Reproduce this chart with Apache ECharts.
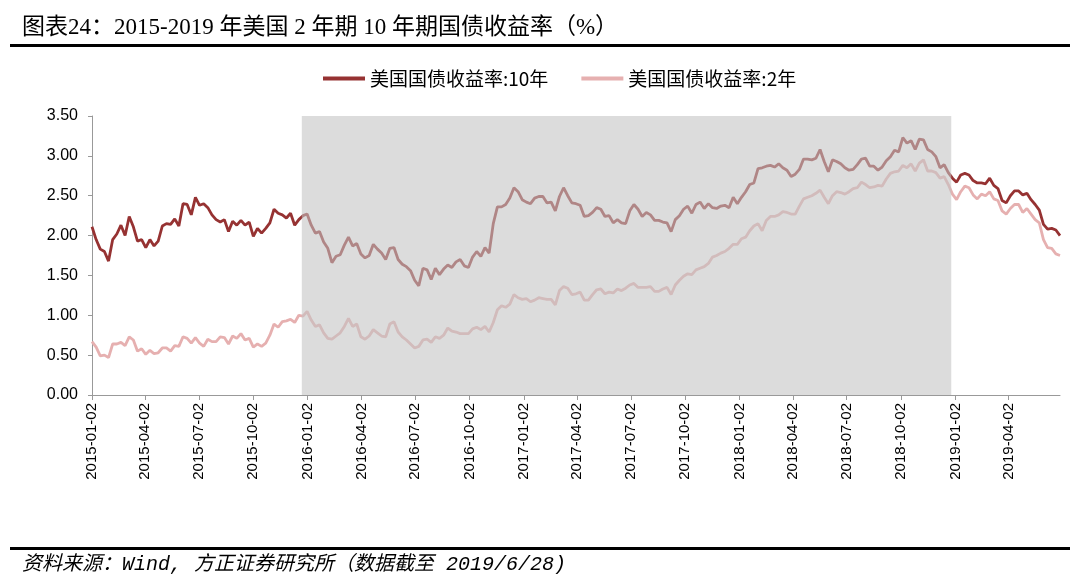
<!DOCTYPE html>
<html style="height: 100%">

<head>
  <meta charset="utf-8">
</head>

<body style="height: 100%; margin: 0">
  <div id="container" style="width: 1080px; height: 588px"></div>
  <script src="https://cdn.jsdelivr.net/npm/echarts@6/dist/echarts.min.js"></script>
  <script type="text/javascript">
    // 周度数据（每周五），从 2015-01-02 到 2019-06-28
    var firstDate = '2015-01-02';
    var lastDate = '2019-06-28';

    // 美国国债收益率:10年
    var tenY2015 = [2.11, 1.95, 1.83, 1.80, 1.68, 1.95, 2.02, 2.13, 2.00, 2.24, 2.11, 1.93, 1.95, 1.85, 1.95, 1.87, 1.93,
      2.12, 2.15, 2.14, 2.21, 2.12, 2.40, 2.39, 2.26, 2.48, 2.38, 2.40, 2.35, 2.26, 2.20, 2.17, 2.20, 2.05, 2.18,
      2.13, 2.19, 2.13, 2.17, 1.99, 2.09, 2.03, 2.09, 2.16, 2.33, 2.28, 2.26, 2.22, 2.28, 2.13, 2.20, 2.25];
    var tenY2016 = [2.27, 2.13, 2.03, 2.05, 1.92, 1.84, 1.66, 1.74, 1.76, 1.88, 1.98, 1.87, 1.90, 1.77, 1.72, 1.75, 1.89, 1.83,
      1.78, 1.70, 1.84, 1.85, 1.70, 1.64, 1.61, 1.56, 1.44, 1.37, 1.59, 1.57, 1.45, 1.59, 1.51, 1.58, 1.63,
      1.60, 1.67, 1.70, 1.62, 1.60, 1.73, 1.80, 1.74, 1.85, 1.78, 2.15, 2.36, 2.36, 2.39, 2.47, 2.60, 2.55, 2.45];
    var tenY2017 = [2.42, 2.40, 2.47, 2.49, 2.49, 2.41, 2.42, 2.31, 2.49, 2.60, 2.50, 2.41, 2.40, 2.38, 2.24, 2.25, 2.29,
      2.35, 2.33, 2.24, 2.25, 2.16, 2.20, 2.16, 2.15, 2.31, 2.39, 2.33, 2.24, 2.29, 2.26, 2.19, 2.19, 2.17,
      2.16, 2.05, 2.20, 2.25, 2.33, 2.37, 2.28, 2.39, 2.42, 2.34, 2.40, 2.35, 2.34, 2.37, 2.38, 2.35, 2.48, 2.40];
    var tenY2018 = [2.48, 2.55, 2.64, 2.66, 2.84, 2.85, 2.87, 2.88, 2.86, 2.90, 2.85, 2.82, 2.74, 2.77, 2.83, 2.96, 2.96,
      2.95, 2.97, 3.08, 2.93, 2.80, 2.95, 2.93, 2.90, 2.85, 2.82, 2.83, 2.89, 2.96, 2.97, 2.87, 2.87, 2.82, 2.86,
      2.94, 2.99, 3.07, 3.05, 3.23, 3.16, 3.19, 3.08, 3.21, 3.20, 3.08, 3.05, 2.99, 2.85, 2.89, 2.79, 2.72];
    var tenY2019 = [2.67, 2.76, 2.78, 2.76, 2.69, 2.66, 2.66, 2.65, 2.72, 2.63, 2.59, 2.44, 2.41,
      2.50, 2.56, 2.56, 2.51, 2.53, 2.45, 2.39, 2.32, 2.14, 2.08, 2.09, 2.07, 2.00];

    // 美国国债收益率:2年
    var twoY2015 = [0.67, 0.60, 0.49, 0.50, 0.47, 0.64, 0.64, 0.66, 0.62, 0.73, 0.69, 0.55, 0.58, 0.51, 0.56, 0.52, 0.53,
      0.59, 0.59, 0.55, 0.62, 0.61, 0.73, 0.71, 0.65, 0.72, 0.65, 0.61, 0.70, 0.67, 0.67, 0.73, 0.72, 0.64, 0.74,
      0.71, 0.77, 0.69, 0.71, 0.60, 0.64, 0.61, 0.65, 0.75, 0.89, 0.85, 0.92, 0.93, 0.95, 0.91, 1.00, 0.99];
    var twoY2016 = [1.05, 0.94, 0.86, 0.88, 0.78, 0.71, 0.70, 0.74, 0.78, 0.86, 0.96, 0.86, 0.89, 0.73, 0.70, 0.74, 0.82, 0.78,
      0.74, 0.73, 0.89, 0.92, 0.79, 0.73, 0.69, 0.64, 0.59, 0.61, 0.69, 0.70, 0.66, 0.73, 0.71, 0.75, 0.84,
      0.80, 0.79, 0.77, 0.77, 0.77, 0.83, 0.85, 0.82, 0.86, 0.79, 0.91, 1.07, 1.12, 1.10, 1.14, 1.26, 1.22, 1.20];
    var twoY2017 = [1.21, 1.17, 1.19, 1.22, 1.21, 1.20, 1.20, 1.13, 1.31, 1.36, 1.34, 1.26, 1.27, 1.29, 1.19, 1.19, 1.26,
      1.32, 1.33, 1.27, 1.29, 1.28, 1.33, 1.31, 1.34, 1.38, 1.40, 1.35, 1.35, 1.35, 1.36, 1.30, 1.30, 1.33,
      1.35, 1.26, 1.38, 1.44, 1.49, 1.52, 1.51, 1.57, 1.59, 1.61, 1.65, 1.73, 1.75, 1.78, 1.80, 1.84, 1.89, 1.89];
    var twoY2018 = [1.96, 1.98, 2.06, 2.12, 2.15, 2.06, 2.19, 2.24, 2.24, 2.26, 2.30, 2.29, 2.27, 2.27, 2.37, 2.46, 2.48,
      2.50, 2.53, 2.57, 2.48, 2.40, 2.50, 2.55, 2.54, 2.52, 2.55, 2.59, 2.60, 2.67, 2.64, 2.60, 2.61, 2.63, 2.62,
      2.71, 2.78, 2.80, 2.81, 2.88, 2.85, 2.90, 2.81, 2.91, 2.95, 2.81, 2.81, 2.79, 2.72, 2.74, 2.64, 2.52];
    var twoY2019 = [2.45, 2.55, 2.62, 2.60, 2.51, 2.46, 2.52, 2.50, 2.55, 2.46, 2.44, 2.31, 2.27,
      2.34, 2.39, 2.39, 2.29, 2.34, 2.27, 2.20, 2.16, 1.95, 1.85, 1.84, 1.77, 1.75];

    // x轴刻度标签
    var tickDates = ['2015-01-02', '2015-04-02', '2015-07-02', '2015-10-02', '2016-01-02', '2016-04-02',
      '2016-07-02', '2016-10-02', '2017-01-02', '2017-04-02', '2017-07-02', '2017-10-02', '2018-01-02',
      '2018-04-02', '2018-07-02', '2018-10-02', '2019-01-02', '2019-04-02'];

    // 灰色阴影区间（加息周期）
    var shadeStart = '2015-12-23';
    var shadeEnd = '2018-12-26';

    var names = ['美国国债收益率:10年', '美国国债收益率:2年'];
    var colors = ['#963232', '#e6b0b0'];

    function ts(s) {
      var p = s.split('-');
      return new Date(+p[0], +p[1] - 1, +p[2]).getTime();
    }

    var tenY = tenY2015.concat(tenY2016, tenY2017, tenY2018, tenY2019);
    var twoY = twoY2015.concat(twoY2016, twoY2017, twoY2018, twoY2019);

    var weekDates = [];
    var d = new Date(2015, 0, 2);
    while (d.getTime() <= ts(lastDate)) {
      weekDates.push(d.getTime());
      d = new Date(d.getFullYear(), d.getMonth(), d.getDate() + 7);
    }

    function pairs(vals) {
      return vals.map(function (v, i) { return [weekDates[i], v]; });
    }

    var tickValues = tickDates.map(ts);

    var dom = document.getElementById("container");
    var myChart = echarts.init(dom);

    var option = {
      animation: false,
      backgroundColor: '#fff',
      graphic: [
        {
          type: 'text', left: 22, top: 16,
          style: {
            text: '图表24：2015-2019 年美国 2 年期 10 年期国债收益率（%）',
            font: '23px "Liberation Serif", "Noto Sans CJK SC"', fill: '#000'
          }
        },
        { type: 'rect', shape: { x: 10, y: 44, width: 1060, height: 3 }, style: { fill: '#000' } },
        { type: 'rect', shape: { x: 10, y: 547, width: 1060, height: 3 }, style: { fill: '#000' } },
        {
          type: 'text', left: 22, top: 555,
          style: {
            text: '资料来源：Wind, 方正证券研究所（数据截至 2019/6/28)',
            font: 'italic 20px "Liberation Mono", "Noto Sans CJK SC"', fill: '#000'
          }
        }
      ],
      legend: {
        data: names,
        left: 318,
        top: 64,
        icon: 'rect',
        itemWidth: 42,
        itemHeight: 4,
        itemGap: 33,
        selectedMode: false,
        textStyle: { fontSize: 19, fontFamily: 'Noto Sans CJK SC', color: '#000' }
      },
      grid: { left: 92, right: 20, top: 116, bottom: 193 },
      xAxis: {
        type: 'time',
        min: ts(firstDate),
        max: ts(lastDate),
        axisLine: { lineStyle: { color: '#999', width: 1 } },
        axisTick: { show: true, customValues: tickValues, length: 5, lineStyle: { color: '#999' } },
        splitLine: { show: false },
        axisLabel: {
          customValues: tickValues,
          rotate: 90,
          margin: 8,
          fontSize: 15,
          fontFamily: 'Liberation Sans',
          color: '#000',
          formatter: '{yyyy}-{MM}-{dd}'
        }
      },
      yAxis: {
        type: 'value',
        min: 0,
        max: 3.5,
        interval: 0.5,
        axisLine: { show: true, lineStyle: { color: '#999' } },
        axisTick: { show: true, length: 4, lineStyle: { color: '#999' } },
        splitLine: { show: false },
        axisLabel: {
          margin: 14,
          fontSize: 16,
          fontFamily: 'Liberation Sans',
          color: '#000',
          formatter: function (v) { return v.toFixed(2); }
        }
      },
      series: [
        {
          name: names[0], type: 'line', data: pairs(tenY), symbol: 'none',
          lineStyle: { width: 2.8, color: colors[0] }, itemStyle: { color: colors[0] }, z: 3
        },
        {
          name: names[1], type: 'line', data: pairs(twoY), symbol: 'none',
          lineStyle: { width: 2.8, color: colors[1] }, itemStyle: { color: colors[1] }, z: 2
        },
        {
          // 半透明灰色覆盖层，压在两条线上面
          name: 'shade', type: 'line', data: [], z: 10, silent: true,
          markArea: {
            silent: true,
            z: 10,
            zlevel: 1,
            itemStyle: { color: 'rgba(195,195,195,0.58)' },
            data: [[{ xAxis: ts(shadeStart) }, { xAxis: ts(shadeEnd) }]]
          }
        }
      ]
    };

    myChart.setOption(option, true);
  </script>
</body>

</html>
